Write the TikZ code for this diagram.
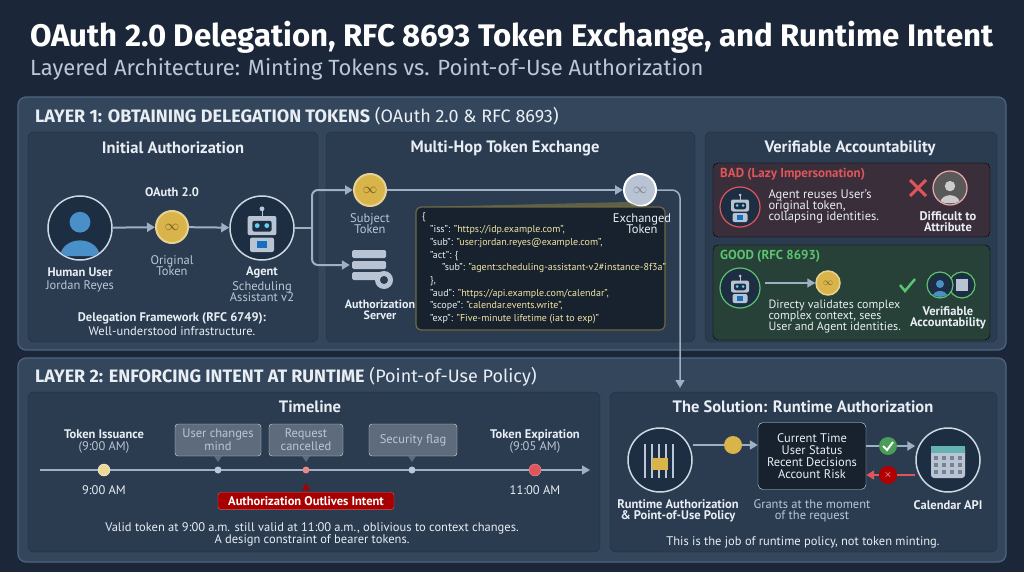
\documentclass[tikz,border=0pt]{standalone}
\usepackage{fontspec}
\setmainfont{PT Sans}
\newfontfamily\ttl{Fira Sans}
\usetikzlibrary{arrows.meta,positioning,calc}
\definecolor{bg}{HTML}{1B2738}
\definecolor{layer}{HTML}{34465B}
\definecolor{lborder}{HTML}{4E6580}
\definecolor{sub}{HTML}{2B3B50}
\definecolor{txt}{HTML}{E8EEF4}
\definecolor{soft}{HTML}{B9C7D6}
\definecolor{arr}{HTML}{9DB0C4}
\definecolor{gold}{HTML}{D9B44A}
\definecolor{silver}{HTML}{B8C4D4}
\definecolor{badbg}{HTML}{3A2E3A}
\definecolor{goodbg}{HTML}{274038}
\definecolor{red1}{HTML}{E0555A}
\definecolor{grn}{HTML}{5CC46E}
\definecolor{jsonbg}{HTML}{18222E}
\definecolor{olive}{HTML}{6E6A45}
\definecolor{yel}{HTML}{F1E4A6}
\definecolor{iconbg}{HTML}{1E2E42}
\definecolor{skin}{HTML}{4A90C8}
\tikzset{
 layerbox/.style={fill=layer,draw=lborder,line width=1.2pt,rounded corners=8pt},
 subbox/.style={fill=sub,draw=sub!80!black,rounded corners=6pt},
 hdr/.style={anchor=west,text=txt,font=\ttl\fontsize{18}{20}\selectfont},
 ttlsub/.style={text=txt,font=\bfseries\fontsize{16.5}{18}\selectfont},
 lab/.style={text=soft,font=\fontsize{12.5}{13}\selectfont,align=center},
 blab/.style={text=txt,font=\bfseries\fontsize{12.5}{13}\selectfont,align=center},
 arrw/.style={draw=arr,line width=2pt,-{Triangle[length=8pt,width=9pt]}},
 icon/.style={circle,fill=iconbg,draw=soft!70,line width=1.5pt,minimum size=64pt,inner sep=0},
 coin/.style={circle,fill=gold,draw=gold!60!white,line width=2pt,minimum size=32pt,inner sep=0,text=gold!50!black,font=\bfseries\fontsize{14}{14}\selectfont},
 js/.style={anchor=west,font=\fontsize{10}{11}\selectfont,text=yel,inner sep=0},
 tbox/.style={fill=layer!80!white,draw=soft!60,rounded corners=3pt,text=soft,font=\fontsize{12.5}{13}\selectfont,align=center,inner sep=2pt},
 dot/.style={circle,fill=soft,minimum size=7pt,inner sep=0},
}
\newcommand{\robot}[2]{% center, scale
 \begin{scope}[shift={#1},scale=#2]
  \draw[soft,line width=1pt] (0,-10)--(0,-15); \fill[soft] (0,-16) circle (2);
  \fill[silver,rounded corners=2pt] (-12,-10) rectangle (12,6);
  \fill[iconbg,rounded corners=2pt] (-8,-6) rectangle (8,3);
  \fill[cyan!60] (-4,-2) circle (2) (4,-2) circle (2);
  \fill[silver,rounded corners=2pt] (-10,8) rectangle (10,20);
  \fill[cyan!50!blue] (-4,11) rectangle (4,17);
 \end{scope}}
\newcommand{\person}[3]{% center scale colour
 \begin{scope}[shift={#1},scale=#2]
  \fill[#3] (0,-6) circle (8);
  \fill[#3] (-15,20) arc[start angle=180,end angle=360,x radius=15,y radius=12] -- cycle;
 \end{scope}}
\begin{document}
\begin{tikzpicture}[x=1pt,y=-1pt]
\useasboundingbox (0,0) rectangle (1024,572);
\fill[bg] (0,0) rectangle (1024,572);
\node[anchor=west,text=white,font=\ttl\bfseries\fontsize{31.2}{32}\selectfont,inner sep=0] (title) at (30,37) {OAuth 2.0 Delegation, RFC 8693 Token Exchange, and Runtime Intent};
\node[anchor=west,text=soft,font=\ttl\fontsize{22}{23}\selectfont,inner sep=0] (subtitle) at (30,69) {Layered Architecture: Minting Tokens vs. Point-of-Use Authorization};

% Layer 1
\draw[layerbox] (18,97) rectangle (1006,350);
\node[hdr,inner sep=0] (h1) at (35,116) {\textbf{LAYER 1: OBTAINING DELEGATION TOKENS} (OAuth 2.0 \& RFC 8693)};
\draw[subbox] (28,132) rectangle (318,342);
\draw[subbox] (326,132) rectangle (695,342);
\draw[subbox] (705,132) rectangle (997,342);
\node[ttlsub] (t11) at (173,148) {Initial Authorization};
\node[ttlsub] (t12) at (505,148) {Multi-Hop Token Exchange};
\node[ttlsub] (t13) at (850,148) {Verifiable Accountability};

% Initial authorization
\node[icon] (human) at (80,228) {};
\begin{scope}\clip (80,228) circle (31); \person{(80,230)}{1.3}{skin} \end{scope}
\node[blab] (oauth) at (172,192) {OAuth 2.0};
\node[coin] (otok) at (172,227) {$\infty$};
\node[lab,align=center] (otokl) at (172,266) {Original\\[-2pt]Token};
\node[icon] (agent) at (262,228) {};
\robot{(262,228)}{1.2}
\node[blab] at (80,272) (hul) {Human User};
\node[lab] at (80,286) (hun) {Jordan Reyes};
\node[blab] at (262,272) (agl) {Agent};
\node[lab] at (262,292) (agn) {Scheduling\\[-2pt]Assistant v2};
\node[blab] (df) at (172,318) {Delegation Framework (RFC 6749):};
\node[lab,text=txt] (df2) at (172,331) {Well-understood infrastructure.};
\draw[arrw] (human) -- (otok);
\draw[arrw] (otok) -- (agent);

% Multi-hop
\coordinate (split) at (312,228);
\node[coin] (stok) at (370,190) {$\infty$};
\node[lab] (stokl) at (370,224) {Subject\\[-2pt]Token};
\node[inner sep=0,minimum width=40pt,minimum height=40pt] (srv) at (370,265) {};
\foreach \yy in {250,261,272} \fill[silver,rounded corners=1.5pt] (352,\yy) rectangle (386,\yy+8);
\fill[silver] (384,280) circle (9); \fill[sub] (384,280) circle (4);
\node[blab,font=\bfseries\fontsize{12}{13}\selectfont] (srvl) at (380,310) {Authorization\\[-2pt]Server};
\draw[draw=arr,line width=2pt] (agent.east) -- (split);
\draw[arrw,rounded corners=6pt] (split) |- (stok.west);
\draw[arrw,rounded corners=6pt] (split) |- (srv.west);
\node[circle,fill=silver,draw=white!80,line width=2pt,minimum size=32pt,inner sep=0,text=gray,font=\bfseries\fontsize{14}{14}\selectfont] (etok) at (640,190) {$\infty$};
\draw[arrw] (stok) -- (etok);
\fill[olive,opacity=0.8] (420,207) -- (etok.south west) -- (etok.south) -- (660,207) -- cycle;
\draw[fill=jsonbg,draw=olive,line width=1.2pt,rounded corners=5pt] (416,207) rectangle (665,330);
\node[lab,text=txt] (etokl) at (642,224) {Exchanged\\[-2pt]Token};
\node[js,text=txt] (j0) at (422,217) {\{};
\node[js] (j1) at (430,230) {\textcolor{txt}{"iss":} "https://idp.example.com",};
\node[js] (j2) at (430,243) {\textcolor{txt}{"sub":} "user:jordan.reyes@example.com",};
\node[js] (j3) at (430,256) {\textcolor{txt}{"act": \{}};
\node[js] (j4) at (442,268) {\textcolor{txt}{"sub":} "agent:scheduling-assistant-v2\#instance-8f3a"};
\node[js,text=txt] (j5) at (430,281) {\},};
\node[js] (j6) at (430,294) {\textcolor{txt}{"aud":} "https://api.example.com/calendar",};
\node[js] (j7) at (430,306) {\textcolor{txt}{"scope":} "calendar.events.write",};
\node[js] (j8) at (430,319) {\textcolor{txt}{"exp":} "Five-minute lifetime (iat to exp)"};

% Verifiable
\draw[fill=badbg,rounded corners=5pt] (713,163) rectangle (990,237);
\node[anchor=west,text=red1,font=\bfseries\fontsize{13}{13}\selectfont,inner sep=0] (bad) at (720,174) {BAD (Lazy Impersonation)};
\node[circle,fill=iconbg,draw=red1,line width=1.2pt,minimum size=40pt,inner sep=0] (rb) at (740,207) {};
\robot{(740,207)}{0.75}
\node[lab,anchor=west,align=left,text=txt] (badt) at (765,206) {Agent reuses User's\\[-2pt]original token,\\[-2pt]collapsing identities.};
\draw[red1,line width=3pt] (910,180) -- (926,196) (926,180) -- (910,196);
\node[circle,fill=gray!70!black,draw=red1!50,line width=1.2pt,minimum size=34pt,inner sep=0] (pb) at (950,188) {};
\begin{scope}\clip (950,188) circle (16); \person{(950,190)}{0.65}{gray!40} \end{scope}
\node[blab] (diff) at (948,222) {Difficult to\\[-2pt]Attribute};
\draw[fill=goodbg,rounded corners=5pt] (713,245) rectangle (990,340);
\node[anchor=west,text=grn,font=\bfseries\fontsize{13}{13}\selectfont,inner sep=0] (good) at (720,256) {GOOD (RFC 8693)};
\node[circle,fill=iconbg,draw=grn,line width=1.2pt,minimum size=40pt,inner sep=0] (rg) at (740,288) {};
\robot{(740,288)}{0.75}
\node[circle,fill=gold,draw=gold!60!white,line width=1.5pt,minimum size=24pt,inner sep=0,text=gold!50!black] (gc) at (828,283) {$\infty$};
\coordinate (ga) at (765,283);
\draw[arrw,line width=1.5pt] (ga) -- (gc);
\node[lab,anchor=west,align=left,text=txt,font=\fontsize{12}{13}\selectfont] (goodt) at (765,317) {Directy validates complex\\[-2pt]complex context, sees\\[-2pt]User and Agent identities.};
\draw[grn,line width=2.5pt] (900,285) -- (905,291) -- (915,279);
\node[circle,fill=iconbg,draw=grn,line width=1.2pt,minimum size=26pt,inner sep=0] (gcal) at (962,285) {};
\fill[silver] (956,279) rectangle (968,291);
\node[circle,fill=iconbg,draw=grn,line width=1.2pt,minimum size=26pt,inner sep=0] (gp) at (940,285) {};
\begin{scope}\clip (940,285) circle (12); \person{(940,287)}{0.5}{skin} \end{scope}
\node[blab] (va) at (948,318) {Verifiable\\[-2pt]Accountability};

% Layer 2
\draw[layerbox] (18,358) rectangle (1006,562);
\node[hdr,inner sep=0] (h2) at (35,377) {\textbf{LAYER 2: ENFORCING INTENT AT RUNTIME} (Point-of-Use Policy)};
\draw[subbox] (28,392) rectangle (600,552);
\draw[subbox] (610,392) rectangle (997,552);
\node[ttlsub] (t21) at (310,407) {Timeline};
\node[ttlsub] (t22) at (803,407) {The Solution: Runtime Authorization};

\coordinate (tl0) at (40,470); \coordinate (tl1) at (590,470);
\draw[arrw,line width=1.5pt] (tl0) -- (tl1);
\node[circle,fill=yel!80!gold,draw=white,minimum size=12pt,inner sep=0] (d1) at (104,470) {};
\node[dot] (d2) at (218,470) {};
\node[dot,fill=red1!70!white] (d3) at (306,470) {};
\node[dot] (d4) at (412,470) {};
\node[circle,fill=red1,draw=red1!60!white,minimum size=12pt,inner sep=0] (d5) at (535,470) {};
\node[blab] (ti) at (104,441) {Token Issuance\\[-1pt]{\mdseries\textcolor{soft}{(9:00 AM)}}};
\node[lab,text=txt] (ti2) at (104,490) {9:00 AM};
\node[blab] (te) at (535,441) {Token Expiration\\[-1pt]{\mdseries\textcolor{soft}{(9:05 AM)}}};
\node[lab,text=txt] (te2) at (535,490) {11:00 AM};
\node[tbox,minimum width=86pt,minimum height=32pt] (b1) at (218,440) {User changes\\mind};
\node[tbox,minimum width=74pt,minimum height=32pt] (b2) at (306,440) {Request\\cancelled};
\node[tbox,minimum width=88pt,minimum height=32pt] (b3) at (413,440) {Security flag};
\foreach \b/\x in {b1/218,b2/306,b3/412} \fill[layer!80!white] (\x-4,456) -- (\x+4,456) -- (\x,462) -- cycle;
\node[fill=red!65!black,draw=red1,rounded corners=3pt,text=white,font=\bfseries\fontsize{12.5}{12}\selectfont,inner sep=4pt,minimum width=176pt] (aoi) at (306,501) {Authorization Outlives Intent};
\fill[red!65!black] (302,490.5) -- (310,490.5) -- (306,483) -- cycle;
\node[lab,text=txt] (tt) at (312,534) {Valid token at 9:00 a.m. still valid at 11:00 a.m., oblivious to context changes.\\[-1pt]A design constraint of bearer tokens.};

% Solution
\node[icon] (rt) at (660,460) {};
\foreach \xx in {645,652,659,666,673} \draw[soft,line width=1.2pt] (\xx,444)--(\xx,478);
\fill[gold] (652,458) rectangle (668,470); \draw[gold,line width=1.5pt] (655,458) arc (180:0:5);
\node[circle,fill=gold,minimum size=18pt,inner sep=0] (sc) at (733,445) {};
\draw[draw=arr,line width=2pt] (rt.east |- sc) -- (sc);
\node[fill=jsonbg,draw=soft!60,rounded corners=5pt,text=txt,font=\fontsize{12.5}{15}\selectfont,align=center,minimum width=108pt,minimum height=67pt] (ctx) at (812,456) {Current Time\\[-3pt]User Status\\[-3pt]Recent Decisions\\[-3pt]Account Risk};
\draw[arrw] (sc) -- (ctx.west |- sc);
\node[icon] (cal) at (948,460) {};
\fill[silver,rounded corners=3pt] (931,446) rectangle (965,478);
\fill[teal!60] (931,446) rectangle (965,453);
\foreach \xx in {936,944,952,960} \foreach \yy in {458,465,472} \fill[iconbg!60] (\xx-2,\yy-2) rectangle (\xx+2,\yy+2);
\node[circle,fill=grn!80!black,minimum size=18pt,inner sep=0] (ok) at (888,446) {};
\draw[white,line width=2pt] (883,446) -- (887,450) -- (893,442);
\node[circle,fill=red!70!black,minimum size=18pt,inner sep=0,text=white,font=\bfseries] (no) at (888,475) {$\times$};
\draw[draw=arr,line width=2pt] (ctx.east |- ok) -- (ok);
\draw[arrw] (ok) -- (cal.west |- ok);
\draw[draw=red1,line width=2pt] (cal.west |- no) -- (no);
\draw[draw=red1,line width=2pt,-{Triangle[length=8pt,width=9pt]}] (no) -- (ctx.east |- no);
\node[blab] (rtl) at (678,511) {Runtime Authorization\\[-2pt]\& Point-of-Use Policy};
\node[lab] (gr) at (812,511) {Grants at the moment\\[-2pt]of the request};
\node[blab] (call) at (948,505) {Calendar API};
\node[lab,text=txt] (job) at (803,542) {This is the job of runtime policy, not token minting.};

% exchanged token to layer 2
\coordinate (c1) at (680,190);
\coordinate (c2) at (680,388);
\draw[arrw,line width=1.5pt,rounded corners=8pt] (etok.east) -- (c1) -- (c2);
\end{tikzpicture}
\end{document}
